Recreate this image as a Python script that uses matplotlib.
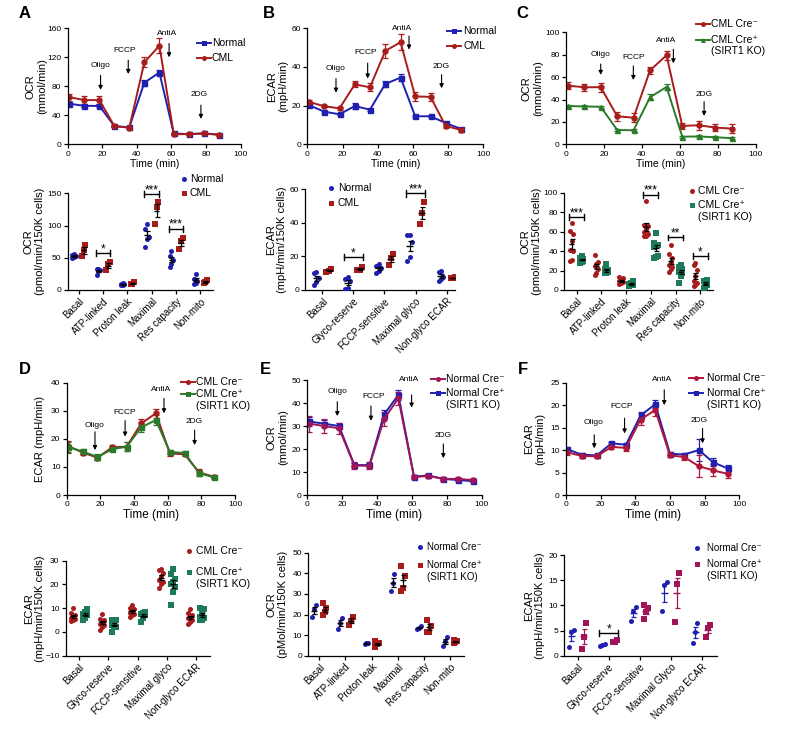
import numpy as np
import matplotlib
matplotlib.use("Agg")
import matplotlib.pyplot as plt
from matplotlib.lines import Line2D

plt.rcParams["font.family"] = ["Liberation Sans", "DejaVu Sans"]

W, H = 793, 733

# ---- time courses (x = minutes) ----
t11 = [1, 9.6, 18.3, 27, 35.6, 44.3, 53, 61.3, 70, 78.6, 87.3]
t_e = [1, 9.6, 18.2, 27, 35.6, 44, 52.2, 61.2, 69.4, 78, 86.6, 94.8]
t_f = [0.6, 9, 17.7, 26.2, 34.6, 43, 51.5, 60, 68, 76.7, 84.8, 93.3]

a_norm = [56, 53, 53, 25, 23.5, 85, 99, 15, 14, 15, 13.5]
a_norm_err = [2.5, 2, 2, 1, 1, 4, 4, 1, 1, 1, 1]
a_cml = [65, 61, 61, 25, 23, 113, 136, 14, 14, 15, 13]
a_cml_err = [5, 5, 5, 1, 1, 7, 10, 1, 1, 1, 1]

b_norm = [20.2, 16.9, 15.5, 19.8, 17.9, 31.2, 34.5, 14.5, 14.5, 11, 8]
b_norm_err = [0.6, 0.6, 0.5, 1.5, 0.6, 1.5, 1.8, 0.5, 0.5, 0.6, 0.5]
b_cml = [21.9, 19.7, 18.6, 31, 29.5, 48.3, 52.8, 24.8, 24.5, 9.5, 7.4]
b_cml_err = [0.8, 0.6, 0.6, 1.5, 2, 3.5, 4, 2.2, 2.2, 1, 1]

c_neg = [52.4, 50.9, 51, 25, 23.8, 66, 79.5, 16.4, 17, 15, 14]
c_neg_err = [3, 3, 4, 4, 4, 3, 4, 3, 4, 3, 4]
c_pos = [34.2, 33.8, 33.5, 12.8, 12.5, 42, 51.2, 6.8, 7, 6.3, 5.5]
c_pos_err = [1, 1, 1, 1, 1, 2.5, 3, 1, 1, 1, 1]

d_neg = [17.4, 15.1, 13.3, 17, 17.2, 25.5, 29.1, 14.8, 14.5, 8.1, 6.5]
d_neg_err = [2, 1, 1, 0.8, 1.5, 1.5, 1.5, 0.8, 0.7, 1, 0.5]
d_pos = [17, 15.5, 13.5, 16.3, 17.2, 24.1, 26.7, 15.3, 15, 7.8, 6.3]
d_pos_err = [2, 1, 1, 0.8, 1.5, 1.5, 1.8, 0.8, 0.7, 1, 0.5]

e_neg = [31, 30, 29, 12.8, 12.7, 33, 42, 7.8, 8.3, 7, 7, 6.5]
e_neg_err = [3.5, 3, 2.5, 1.5, 1.5, 3, 3, 1, 1, 1, 1, 1]
e_pos = [32, 31, 30, 13, 13, 35, 43.5, 8, 8.5, 7, 6.5, 6]
e_pos_err = [2, 1.5, 1.5, 1, 1, 2, 2, 0.5, 0.5, 0.5, 0.5, 0.5]

f_neg = [9.5, 8.7, 8.6, 10.7, 10.5, 16.8, 18.9, 8.8, 8.5, 6.4, 5.5, 4.7]
f_neg_err = [0.5, 0.4, 0.4, 0.4, 0.6, 1.3, 1.3, 0.4, 0.7, 2.4, 1.3, 1.0]
f_pos = [10.2, 9, 8.8, 11.5, 11.2, 17.7, 20.2, 9.2, 9, 10, 7.3, 5.9]
f_pos_err = [0.4, 0.4, 0.3, 0.4, 0.3, 0.8, 0.9, 0.4, 0.4, 2.5, 0.9, 0.7]

# injection arrows: label, text x, text y, arrow x, arrow top, arrow bottom
a_arrows = [("Oligo", 19, 109, 19, 95, 75), ("FCCP", 33, 130, 35, 116, 97),
            ("AntiA", 57.6, 153, 58.6, 139, 120), ("2DG", 76, 68, 77, 54, 35)]
b_arrows = [("Oligo", 16.3, 39, 16.3, 34, 26.7), ("FCCP", 33.3, 47.4, 34.3, 42, 34),
            ("AntiA", 54, 60, 57.8, 56, 49), ("2DG", 76.3, 40.5, 76.3, 36, 29)]
c_arrows = [("Oligo", 18.3, 80.6, 18.3, 71.7, 62), ("FCCP", 35.9, 77.7, 35.5, 70, 57.4),
            ("AntiA", 53, 93, 56.6, 84.8, 72.3), ("2DG", 72.8, 44.6, 72.8, 38, 25.3)]
d_arrows = [("Oligo", 16.8, 24.9, 16.8, 22.5, 16), ("FCCP", 34.7, 29.3, 34.7, 26.5, 20.8),
            ("AntiA", 56, 37.4, 57.8, 34.4, 29.1), ("2DG", 76, 26.1, 76, 23.1, 17.8)]
e_arrows = [("Oligo", 17.2, 44.9, 17.2, 40.6, 34.3), ("FCCP", 38.2, 42.8, 36.5, 38.7, 32.3),
            ("AntiA", 58.3, 50.3, 59.8, 43.5, 38), ("2DG", 78, 26, 78, 22.2, 16)]
f_arrows = [("Oligo", 15.8, 16.1, 16.3, 13.4, 10.4), ("FCCP", 32.3, 19.7, 33.8, 17.1, 13.7),
            ("AntiA", 55.2, 25.7, 56.7, 23.4, 20), ("2DG", 77, 16.5, 78.8, 14.8, 11.5)]

# ---- dot plots ----
mito_cats = ["Basal", "ATP-linked", "Proton leak", "Maximal", "Res capacity", "Non-mito"]
glyco_cats = ["Basal", "Glyco-reserve", "FCCP-sensitive", "Maximal glyco", "Non-glyco ECAR"]
glyco_cats_f = ["Basal", "Glyco-reserve", "FCCP-sensitive", "Maximal Glyco", "Non-glyco ECAR"]

a_dot_norm = [[56, 54, 52, 50, 51], [33, 32, 31, 30, 24], [11, 10, 9, 8, 7],
              [103, 95, 82, 79, 67], [60, 52, 46, 41, 36], [25, 17, 14, 11, 9]]
a_dot_cml = [[70, 62, 52], [43, 40, 31], [12, 10, 9], [137, 129, 103], [80, 76, 64], [15, 12, 11]]

b_dot_norm = [[10.5, 10, 7, 4.6, 3], [7.5, 6.6, 5.5, 1, 0.6], [15.5, 14.5, 13, 11.5, 10],
              [33, 32.5, 28.4, 19.9, 17.5], [11.5, 11, 8, 6.5, 5.6]]
b_dot_cml = [[12.5, 11.5, 11], [13.5, 12, 11.8], [21.5, 19, 15], [52.5, 45.7, 39.4], [7.5, 7, 7]]

c_dot_neg = [[69, 61, 57.5, 50, 41, 40, 30.8, 30], [36, 29, 27, 25, 22, 17, 15],
             [13, 12, 10, 9, 8, 7, 6], [91, 67, 66, 63, 60, 58, 56, 55],
             [46, 37, 33, 29, 26, 24, 22, 19], [28, 26, 21, 14, 9, 7, 5, 4]]
c_dot_pos = [[35, 33, 32, 31.5, 31, 30, 29, 28], [27, 22, 21, 20, 19, 18, 17, 17],
             [9, 7, 6, 5, 5, 4], [59, 48, 46, 45, 44, 35, 34, 33],
             [26, 24, 22, 21, 19, 17, 14, 7], [10, 9.5, 9, 5, 3, 2]]

d_dot_neg = [[10, 8, 7, 6.5, 6, 5.5, 5, 4.5], [7.5, 5.5, 5, 4.5, 3.5, 3, 2, 1],
             [11.5, 10, 9.5, 9, 8, 7.5, 7, 6.5], [26.5, 26, 25, 23.5, 22, 21, 20, 18.5],
             [9.5, 8, 7, 6.5, 6, 5, 4, 3.5]]
d_dot_pos = [[9.5, 8.5, 7.5, 7, 6, 5], [5, 5, 4, 3, 2, 2, 0], [8.5, 8, 7.5, 7, 6, 4],
             [26.5, 24.5, 22.5, 21, 20, 19, 17, 11.5], [10, 9.5, 8, 6.5, 6, 5, 5]]

e_dot_neg = [[24.4, 22.5, 18.6], [18.5, 16, 13], [6, 6, 5.5], [39.5, 35.5, 31.5],
             [14.5, 13.5, 13], [9, 7, 4.5]]
e_dot_pos = [[25.6, 23, 21, 20], [19, 17, 15], [7, 6, 5.5, 4], [43.5, 38.5, 33, 31.5],
             [17.5, 14.5, 11.5, 11.5], [7.5, 7, 6.5, 6]]

f_dot_neg = [[5.2, 4.8, 1.8], [2.3, 2.1, 2.0], [9.6, 8.9, 6.8], [14.6, 14.0, 8.8], [6.5, 4.8, 2.6]]
f_dot_pos = [[6.4, 3.8, 1.3], [3.2, 2.8, 2.7], [10.1, 9.4, 8.7, 7.3], [16.4, 14.2, 6.7], [6.1, 5.5, 3.8]]

# significance: category index, bracket height, stars
a_sig = [(1, 57, "*"), (3, 149, "***"), (4, 95, "***")]
b_sig = [(1, 19.5, "*"), (3, 57.5, "***")]
c_sig = [(0, 75, "***"), (3, 98, "***"), (4, 54, "**"), (5, 35, "*")]
f_sig = [(1, 4.5, "*")]

BLUE = "#2020b0"
RED = "#a81c1c"
GREEN = "#2a7a2a"
TEAL = "#1e7a5a"
MAGENTA = "#a0145a"
CRIMSON = "#b0163a"

NEG = "Cre\u207b"
POS = "Cre\u207a"

fig = plt.figure(figsize=(W / 100, H / 100), dpi=100)


def add_ax(left, top, right, bottom):
    ax = fig.add_axes([left / W, 1 - bottom / H, (right - left) / W, (bottom - top) / H])
    for s in ("top", "right"):
        ax.spines[s].set_visible(False)
    for s in ("left", "bottom"):
        ax.spines[s].set_linewidth(0.9)
    ax.tick_params(length=3, width=0.9, labelsize=6, pad=1.5)
    return ax


def ylabel_at(ax, text, x_px, size=8):
    ax.set_ylabel(text, fontsize=size, linespacing=1.15)
    bb = ax.get_position()
    ax.yaxis.set_label_coords(x_px / W, bb.y0 + bb.height / 2, transform=fig.transFigure)


def xlabel_at(ax, text, y_px, size):
    ax.set_xlabel(text, fontsize=size)
    bb = ax.get_position()
    ax.xaxis.set_label_coords(bb.x0 + bb.width / 2, 1 - y_px / H, transform=fig.transFigure)


def time_panel(ax, t, series, ymax, ystep, arrows):
    for y, e, c, m in series:
        ax.errorbar(t, y, yerr=e, color=c, marker=m, ms=3.6, lw=1.4,
                    elinewidth=0.9, capsize=2, capthick=0.9)
    ax.set_xlim(0, 100)
    ax.set_xticks(range(0, 101, 20))
    ax.set_ylim(0, ymax)
    ax.set_yticks(np.arange(0, ymax + 0.01, ystep))
    for label, tx, ty, axx, y0, y1 in arrows:
        ax.text(tx, ty, label, ha="center", va="center", fontsize=6)
        ax.annotate("", xy=(axx, y1), xytext=(axx, y0),
                    arrowprops=dict(arrowstyle="-|>", color="k", lw=0.8,
                                    mutation_scale=6, shrinkA=0, shrinkB=0))


def dot_panel(ax, cats, groups, ymin, ymax, ystep, sig=(), rot=45):
    for vals_list, color, marker, off, mc in groups:
        for ci, vals in enumerate(vals_list):
            v = np.asarray(vals, float)
            rank = np.argsort(np.argsort(v))
            jit = (rank % 3 - 1) * 0.07
            xc = ci + off
            ax.scatter(xc + jit, v, s=13, color=color, marker=marker, linewidths=0, zorder=3)
            m = v.mean()
            se = v.std(ddof=1) / np.sqrt(len(v))
            ax.hlines(m, xc - 0.11, xc + 0.11, color=mc, lw=1, zorder=4)
            ax.errorbar(xc, m, yerr=se, fmt="none", ecolor=mc, elinewidth=0.9,
                        capsize=1.8, capthick=0.9, zorder=4)
    ax.set_xticks(range(len(cats)))
    ax.set_xticklabels(cats, rotation=rot, ha="right", rotation_mode="anchor", fontsize=7)
    ax.set_ylim(ymin, ymax)
    ax.set_yticks(np.arange(ymin, ymax + 0.01, ystep))
    d = 0.03 * (ymax - ymin)
    for ci, y, stars in sig:
        x1, x2 = ci - 0.3, ci + 0.3
        ax.plot([x1, x2], [y, y], color="k", lw=1, clip_on=False)
        ax.plot([x1, x1], [y - d, y + d], color="k", lw=1, clip_on=False)
        ax.plot([x2, x2], [y - d, y + d], color="k", lw=1, clip_on=False)
        ax.annotate(stars, (ci, y), xytext=(0, -1.5), textcoords="offset points",
                    ha="center", va="bottom", fontsize=8.5)


def key(xm, y, tx, label, color, marker, line=False, fs=7.5, ms=3.6):
    X = lambda px: px / W
    Y = lambda py: 1 - py / H
    if line:
        fig.add_artist(Line2D([X(xm - 7), X(xm + 7)], [Y(y), Y(y)], color=color, lw=1.4,
                              transform=fig.transFigure))
    fig.add_artist(Line2D([X(xm)], [Y(y)], marker=marker, color=color, ms=ms, ls="none",
                          markeredgewidth=0, transform=fig.transFigure))
    for i, part in enumerate(label.split("\n")):
        fig.text(X(tx), Y(y + i * 11.5), part, va="center", ha="left", fontsize=fs)


# ---------- row 1 ----------
ax = add_ax(67.7, 28.3, 240.7, 144.3)
time_panel(ax, t11, [(a_norm, a_norm_err, BLUE, "s"), (a_cml, a_cml_err, RED, "o")], 160, 40, a_arrows)
ylabel_at(ax, "OCR\n(mmol/min)", 47)
xlabel_at(ax, "Time (min)", 159, 7.5)
key(203.5, 42.7, 212, "Normal", BLUE, "s", line=True)
key(203.5, 58.3, 212, "CML", RED, "o", line=True)

ax = add_ax(307.3, 28.3, 483.3, 144.3)
time_panel(ax, t11, [(b_norm, b_norm_err, BLUE, "s"), (b_cml, b_cml_err, RED, "o")], 60, 20, b_arrows)
ylabel_at(ax, "ECAR\n(mpH/min)", 288)
xlabel_at(ax, "Time (min)", 159, 7.5)
key(453.5, 30.7, 463, "Normal", BLUE, "s", line=True)
key(453.5, 46, 463, "CML", RED, "o", line=True)

ax = add_ax(566, 32.3, 755.7, 144.3)
time_panel(ax, t11, [(c_neg, c_neg_err, RED, "o"), (c_pos, c_pos_err, GREEN, "^")], 100, 20, c_arrows)
ylabel_at(ax, "OCR\n(mmol/min)", 543)
xlabel_at(ax, "Time (min)", 159, 7.5)
key(702.5, 24, 711, "CML " + NEG, RED, "o", line=True)
key(702.5, 40, 711, "CML " + POS + "\n(SIRT1 KO)", GREEN, "^", line=True)

# ---------- row 2 ----------
ax = add_ax(67.7, 193.3, 213.3, 290)
ax.set_xlim(-0.45, 5.53)
dot_panel(ax, mito_cats, [(a_dot_norm, BLUE, "o", -0.19, "k"), (a_dot_cml, RED, "s", 0.2, "k")],
          0, 150, 50, a_sig)
ylabel_at(ax, "OCR\n(pmol/min/150K cells)", 45)
key(184, 179, 190, "Normal", BLUE, "o", fs=7.5)
key(184, 193.3, 190, "CML", RED, "s", fs=7.5)

ax = add_ax(305.3, 189.3, 455, 290)
ax.set_xlim(-0.55, 4.27)
dot_panel(ax, glyco_cats, [(b_dot_norm, BLUE, "o", -0.19, "k"), (b_dot_cml, RED, "s", 0.2, "k")],
          0, 60, 20, b_sig)
ylabel_at(ax, "ECAR\n(mpH/min/150K cells)", 287)
key(330.7, 188.3, 338, "Normal", BLUE, "o", fs=7.5)
key(330.7, 202.7, 338, "CML", RED, "s", fs=7.5)

ax = add_ax(564.3, 192.7, 712.7, 290)
ax.set_xlim(-0.5, 5.5)
dot_panel(ax, mito_cats, [(c_dot_neg, RED, "o", -0.2, "k"), (c_dot_pos, TEAL, "s", 0.2, "k")],
          0, 100, 20, c_sig)
ylabel_at(ax, "OCR\n(pmol/min/150K cells)", 542)
key(692.3, 191, 698, "CML " + NEG, RED, "o", fs=7.5)
key(692.3, 205, 698, "CML " + POS + "\n(SIRT1 KO)", TEAL, "s", fs=7.5)

# ---------- row 3 ----------
ax = add_ax(66.7, 382.7, 235, 495)
time_panel(ax, t11, [(d_neg, d_neg_err, RED, "o"), (d_pos, d_pos_err, GREEN, "s")], 40, 10, d_arrows)
ylabel_at(ax, "ECAR (mpH/min)", 45)
xlabel_at(ax, "Time (min)", 509, 8.5)
key(187.5, 381.7, 195.7, "CML " + NEG, RED, "o", line=True)
key(187.5, 394.3, 195.7, "CML " + POS + "\n(SIRT1 KO)", GREEN, "s", line=True)

ax = add_ax(307.3, 380, 481.7, 495)
time_panel(ax, t_e, [(e_pos, e_pos_err, BLUE, "s"), (e_neg, e_neg_err, MAGENTA, "o")], 50, 10, e_arrows)
ylabel_at(ax, "OCR\n(mmol/min)", 288)
xlabel_at(ax, "Time (min)", 509, 8.5)
key(437.8, 379.3, 446, "Normal " + NEG, MAGENTA, "o", line=True)
key(437.8, 393.3, 446, "Normal " + POS + "\n(SIRT1 KO)", BLUE, "s", line=True)

ax = add_ax(566, 382.7, 739.3, 495)
time_panel(ax, t_f, [(f_pos, f_pos_err, BLUE, "s"), (f_neg, f_neg_err, CRIMSON, "o")], 25, 5, f_arrows)
ylabel_at(ax, "ECAR\n(mpH/min)", 545)
xlabel_at(ax, "Time (min)", 509, 8.5)
key(696, 378.3, 706.7, "Normal " + NEG, CRIMSON, "o", line=True)
key(696, 393.3, 706.7, "Normal " + POS + "\n(SIRT1 KO)", BLUE, "s", line=True)

# ---------- row 4 ----------
ax = add_ax(65.7, 560.7, 210, 655.7)
ax.set_xlim(-0.45, 4.47)
dot_panel(ax, glyco_cats, [(d_dot_neg, RED, "o", -0.2, "k"), (d_dot_pos, TEAL, "s", 0.2, "k")],
          -10, 30, 10)
ylabel_at(ax, "ECAR\n(mpH/min/150K cells)", 45)
key(189, 550.7, 195.7, "CML " + NEG, RED, "o", fs=7.5)
key(189, 572.3, 195.7, "CML " + POS + "\n(SIRT1 KO)", TEAL, "s", fs=7.5)

ax = add_ax(308.3, 552.7, 464, 655.7)
ax.set_xlim(-0.42, 5.53)
dot_panel(ax, mito_cats, [(e_dot_neg, BLUE, "o", -0.2, "k"), (e_dot_pos, RED, "s", 0.2, "k")],
          0, 50, 10)
ylabel_at(ax, "OCR\n(pMol/min/150K cells)", 288)
key(420, 546.7, 426.7, "Normal " + NEG, BLUE, "o", fs=7)
key(420, 565, 426.7, "Normal " + POS + "\n(SIRT1 KO)", RED, "s", fs=7)

ax = add_ax(564.3, 555, 717, 655.7)
ax.set_xlim(-0.43, 4.5)
dot_panel(ax, glyco_cats_f, [(f_dot_neg, BLUE, "o", -0.2, BLUE), (f_dot_pos, MAGENTA, "s", 0.2, MAGENTA)],
          0, 20, 5, f_sig)
ylabel_at(ax, "ECAR\n(mpH/min/150K cells)", 545)
key(696.7, 548.3, 706.7, "Normal " + NEG, BLUE, "o", fs=7)
key(696.7, 564.3, 706.7, "Normal " + POS + "\n(SIRT1 KO)", MAGENTA, "s", fs=7)

# panel letters
for letter, x, y in [("A", 25, 14), ("B", 269, 14), ("C", 522, 14),
                     ("D", 25, 370), ("E", 265, 370), ("F", 523, 370)]:
    fig.text(x / W, 1 - y / H, letter, fontsize=12, fontweight="bold", ha="center", va="center")

fig.savefig("out.png", dpi=100)
